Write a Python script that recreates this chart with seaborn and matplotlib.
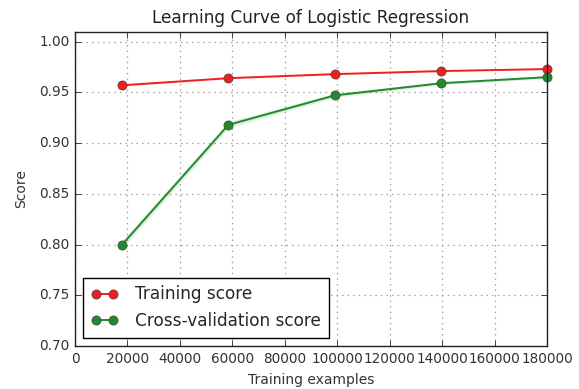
import matplotlib
matplotlib.use("Agg")
import matplotlib.pyplot as plt
import seaborn as sns
import numpy as np
import pandas as pd

train_sizes = [18000, 58500, 99000, 139500, 180000]
train_mean = [0.957, 0.964, 0.968, 0.971, 0.973]
train_std = [0.0008, 0.0008, 0.0006, 0.0005, 0.0005]
cv_mean = [0.800, 0.918, 0.947, 0.959, 0.965]
cv_std = [0.004, 0.003, 0.002, 0.0015, 0.0015]
xticks = [0, 20000, 40000, 60000, 80000, 100000, 120000, 140000, 160000, 180000]
yticks = [0.70, 0.75, 0.80, 0.85, 0.90, 0.95, 1.00]

plt.style.use("classic")
sns.set_style("ticks", {"axes.edgecolor": "black"})
plt.rcParams["font.family"] = ["DejaVu Sans"]

fig = plt.figure(figsize=(5.79, 3.89), dpi=100, facecolor="white")
ax = fig.add_axes([0.1295, 0.1105, 0.8152, 0.8085])
ax.set_facecolor("white")

df_train = pd.DataFrame({"x": train_sizes, "y": train_mean})
df_cv = pd.DataFrame({"x": train_sizes, "y": cv_mean})

tm, ts = np.array(train_mean), np.array(train_std)
cm, cs = np.array(cv_mean), np.array(cv_std)
ax.fill_between(train_sizes, tm - ts, tm + ts, color="r", alpha=0.1, lw=0)
ax.fill_between(train_sizes, cm - cs, cm + cs, color="g", alpha=0.12, lw=0)

sns.lineplot(data=df_train, x="x", y="y", ax=ax, color="#f01e1e", marker="o",
             markersize=6.6, markeredgecolor="#444444", markeredgewidth=0.5,
             lw=1.4, label="Training score", clip_on=False)
sns.lineplot(data=df_cv, x="x", y="y", ax=ax, color="#1f8a2e", marker="o",
             markersize=6.6, markeredgecolor="#444444", markeredgewidth=0.5,
             lw=1.4, label="Cross-validation score", clip_on=False)

ax.set_xlim(0, 180000)
ax.set_ylim(0.70, 1.01)
ax.set_xticks(xticks)
ax.set_xticklabels([str(v) for v in xticks], fontsize=9.8, color="#333333")
ax.set_yticks(yticks)
ax.set_yticklabels([f"{v:.2f}" for v in yticks], fontsize=9.8, color="#333333")
ax.tick_params(direction="in", top=True, right=True, length=4, width=0.6, pad=4)
ax.grid(True, linestyle=":", color="#999999", lw=0.9)
ax.set_axisbelow(True)
for s in ax.spines.values():
    s.set_linewidth(1.0)
    s.set_color("#222222")

ax.set_title("Learning Curve of Logistic Regression", fontsize=12.2, color="#222222", pad=6)
ax.set_xlabel("Training examples", fontsize=10, color="#333333", labelpad=5)
ax.set_ylabel("Score", fontsize=10, color="#333333", labelpad=8)

leg = ax.legend(loc="lower left", fontsize=12.2, numpoints=2, frameon=True,
                fancybox=False, handlelength=1.6, handletextpad=1.0,
                borderpad=0.45, labelspacing=0.5, borderaxespad=0.5)
leg.get_frame().set_edgecolor("black")
leg.get_frame().set_linewidth(1.0)

fig.savefig("out.png", dpi=100, facecolor="white")
